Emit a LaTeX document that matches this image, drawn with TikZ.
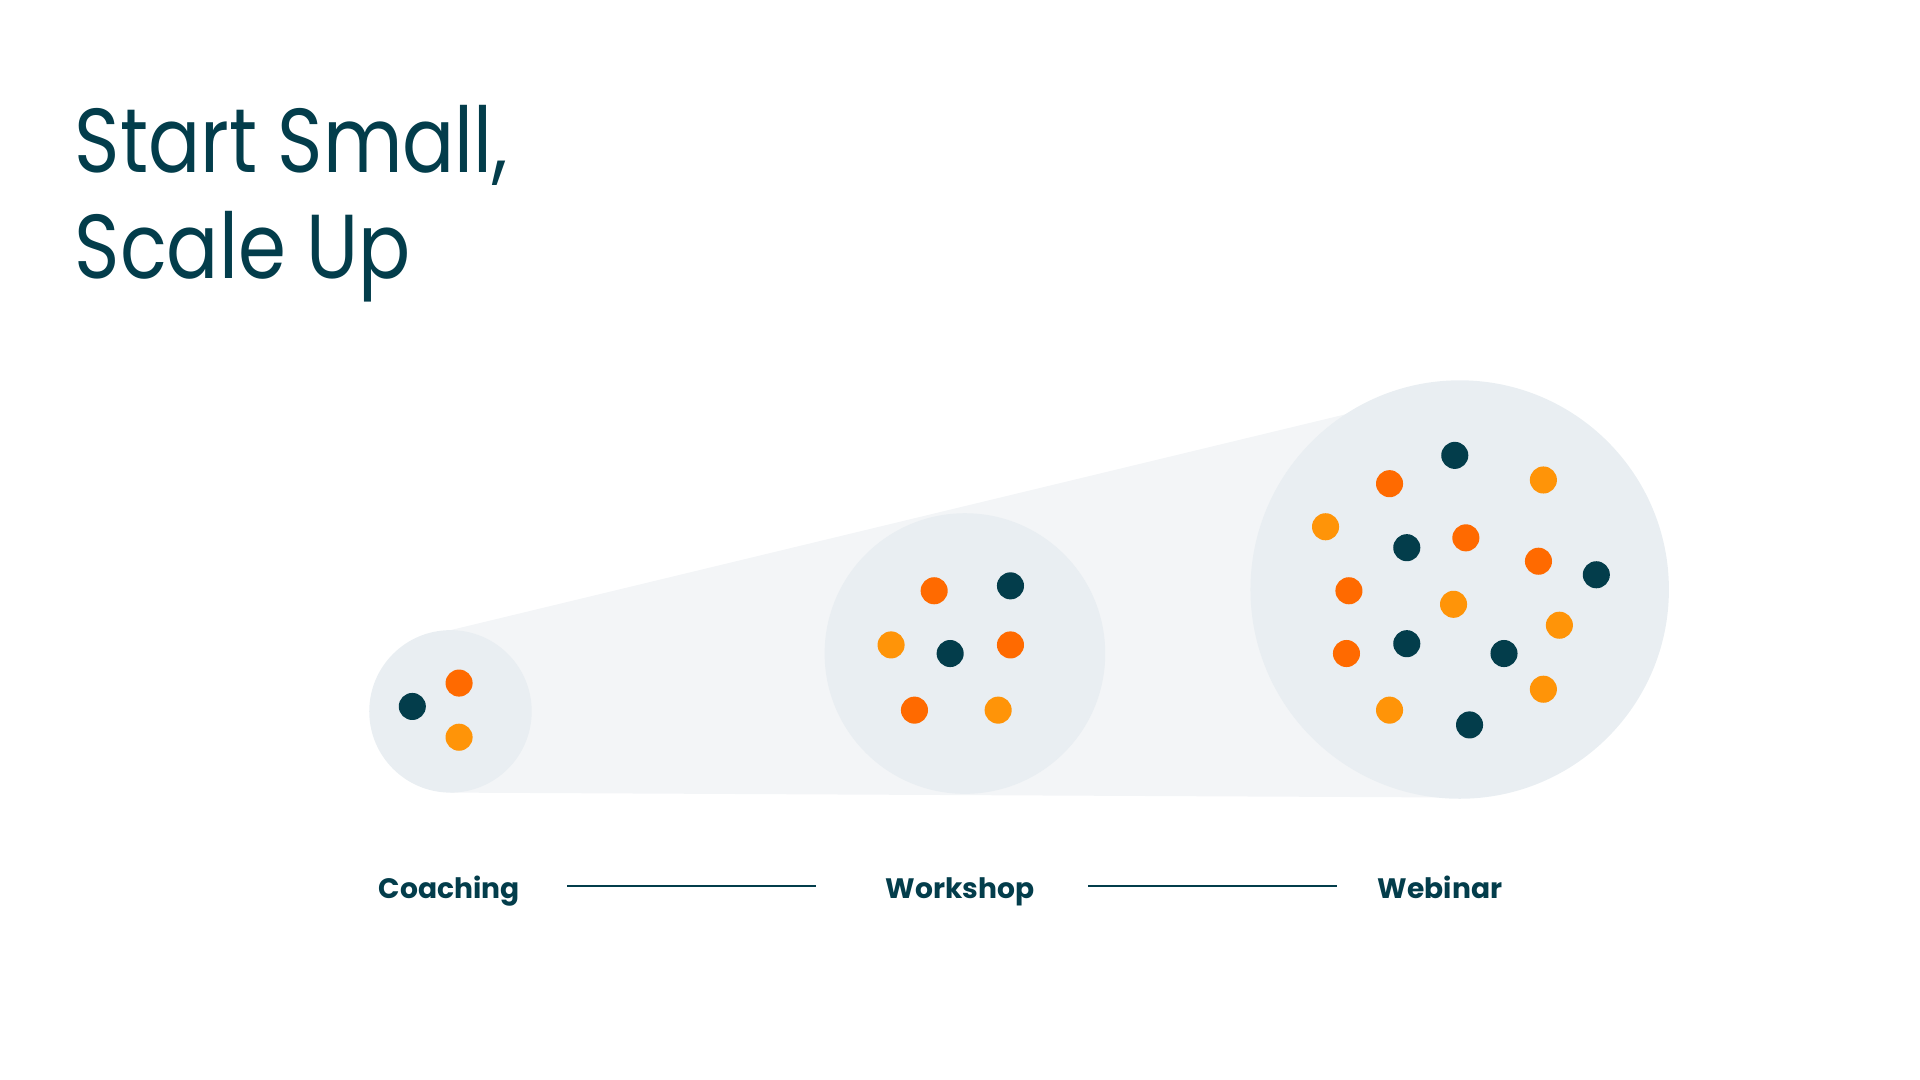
\documentclass[tikz,border=0pt]{standalone}
\usepackage{fontspec}
\setmainfont{Poppins}
\newfontfamily\ttlfont{Poppins}[FakeStretch=0.85]
\usetikzlibrary{positioning}
\definecolor{navy}{HTML}{033D4B}
\definecolor{tangerine}{HTML}{FF6A00}
\definecolor{amber}{HTML}{FF9408}
\definecolor{funnel}{HTML}{F3F5F7}
\definecolor{ring}{HTML}{E9EEF2}
\tikzset{
  dot/.style={circle, fill=#1, inner sep=0pt, minimum size=2.2mm},
  stage/.style={circle, fill=ring, inner sep=0pt},
  lbl/.style={text=navy, font=\fontsize{6.5pt}{8pt}\selectfont\bfseries, anchor=base, inner sep=0pt},
  ttl/.style={text=navy, font=\ttlfont\fontsize{21pt}{25pt}\selectfont, anchor=base west, inner sep=0pt}
}
\begin{document}
\begin{tikzpicture}[x=0.1mm,y=-0.1mm]
			\useasboundingbox (0,0) rectangle (1560,877.5);
			% title
			\node[ttl] (title1) at (60,140) {Start Small,};
			\node[ttl] (title2) at (60,226) {Scale Up};

			% funnel behind the stages
			\fill[funnel] (366,512) -- (1100,335) -- (1186,648) -- (366,644) -- cycle;

			% stages
			\node[stage, minimum size=13.2mm] (coach) at (366,578) {};
			\node[stage, minimum size=22.8mm] (work) at (784,531) {};
			\node[stage, minimum size=34mm] (web) at (1186,479) {};

			% coaching dots
			\node[dot=navy] (c1) at (335,574) {};
			\node[dot=tangerine] (c2) at (373,555) {};
			\node[dot=amber] (c3) at (373,599) {};

			% workshop dots
			\foreach \px/\py/\col [count=\i] in {759/480/tangerine, 821/476/navy, 724/524/amber, 772/531/navy, 821/524/tangerine, 743/577/tangerine, 811/577/amber}
				\node[dot=\col] (w\i) at (\px,\py) {};

			% webinar dots
			\foreach \px/\py/\col [count=\i] in {1182/370/navy, 1129/393/tangerine, 1254/390/amber, 1077/428/amber, 1143/445/navy, 1191/437/tangerine, 1250/456/tangerine, 1297/467/navy, 1096/480/tangerine, 1181/491/amber, 1267/508/amber, 1094/531/tangerine, 1143/523/navy, 1222/531/navy, 1254/560/amber, 1129/577/amber, 1194/589/navy}
				\node[dot=\col] (b\i) at (\px,\py) {};

			% labels
			\node[lbl] (lbl1) at (365,730) {Coaching};
			\node[lbl] (lbl2) at (780,730) {Workshop};
			\node[lbl] (lbl3) at (1170,730) {Webinar};
			\coordinate (l1a) at (461,720);
			\coordinate (l1b) at (663,720);
			\coordinate (l2a) at (884,720);
			\coordinate (l2b) at (1086,720);
			\draw[navy, line width=0.2mm] (l1a) -- (l1b);
			\draw[navy, line width=0.2mm] (l2a) -- (l2b);
\end{tikzpicture}
\end{document}
